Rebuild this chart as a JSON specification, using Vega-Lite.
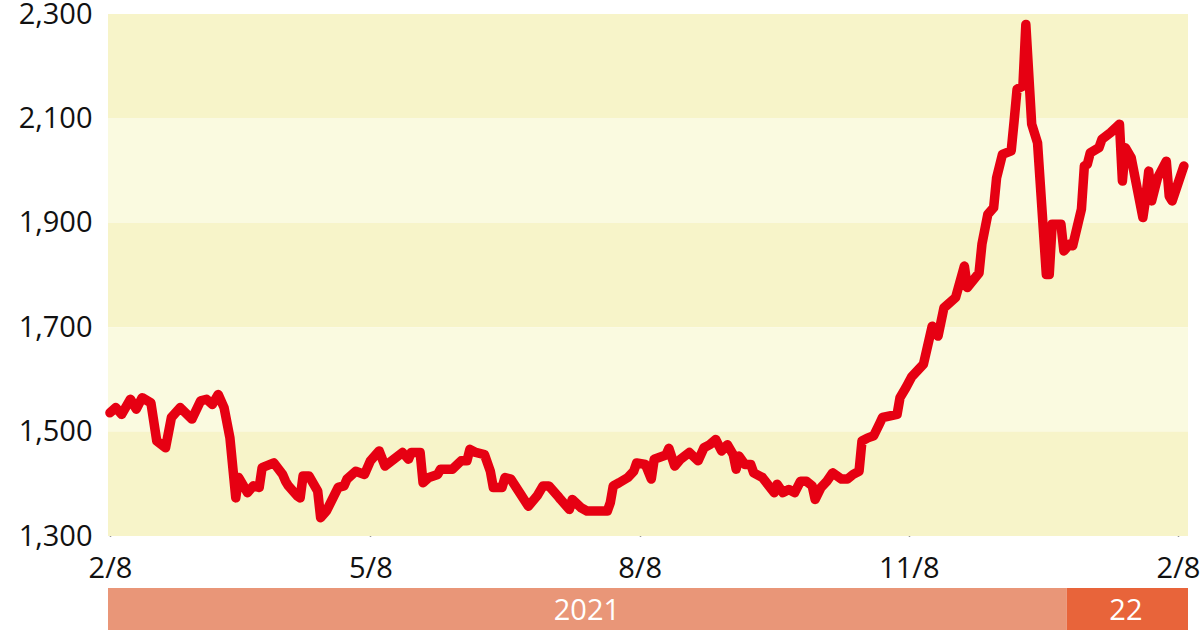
{
  "$schema": "https://vega.github.io/schema/vega-lite/v6.json",
  "padding": {"left": 18, "top": 0, "right": 0, "bottom": 0},
  "background": "white",
  "config": {
    "font": "Open Sans",
    "view": {"stroke": null},
    "concat": {"spacing": 5}
  },
  "resolve": {"scale": {"color": "independent"}},
  "datasets": {
    "bands": [
      {"lo": 2100, "hi": 2300, "shade": "dark"},
      {"lo": 1900, "hi": 2100, "shade": "light"},
      {"lo": 1700, "hi": 1900, "shade": "dark"},
      {"lo": 1500, "hi": 1700, "shade": "light"},
      {"lo": 1300, "hi": 1500, "shade": "dark"}
    ],
    "price": [
      {"date": "2021-02-08", "value": 1536},
      {"date": "2021-02-10", "value": 1546},
      {"date": "2021-02-12", "value": 1533},
      {"date": "2021-02-15", "value": 1562},
      {"date": "2021-02-17", "value": 1543},
      {"date": "2021-02-19", "value": 1565},
      {"date": "2021-02-22", "value": 1555},
      {"date": "2021-02-24", "value": 1482},
      {"date": "2021-02-27", "value": 1469},
      {"date": "2021-03-01", "value": 1527},
      {"date": "2021-03-04", "value": 1546},
      {"date": "2021-03-08", "value": 1524},
      {"date": "2021-03-11", "value": 1559},
      {"date": "2021-03-13", "value": 1562},
      {"date": "2021-03-15", "value": 1552},
      {"date": "2021-03-17", "value": 1571},
      {"date": "2021-03-19", "value": 1546},
      {"date": "2021-03-21", "value": 1488},
      {"date": "2021-03-23", "value": 1373},
      {"date": "2021-03-24", "value": 1412},
      {"date": "2021-03-27", "value": 1383},
      {"date": "2021-03-29", "value": 1396},
      {"date": "2021-03-31", "value": 1393},
      {"date": "2021-04-01", "value": 1431},
      {"date": "2021-04-05", "value": 1440},
      {"date": "2021-04-08", "value": 1418},
      {"date": "2021-04-09", "value": 1405},
      {"date": "2021-04-10", "value": 1396},
      {"date": "2021-04-13", "value": 1377},
      {"date": "2021-04-14", "value": 1373},
      {"date": "2021-04-15", "value": 1415},
      {"date": "2021-04-17", "value": 1415},
      {"date": "2021-04-20", "value": 1386},
      {"date": "2021-04-21", "value": 1335},
      {"date": "2021-04-23", "value": 1348},
      {"date": "2021-04-27", "value": 1393},
      {"date": "2021-04-29", "value": 1396},
      {"date": "2021-04-30", "value": 1409},
      {"date": "2021-05-03", "value": 1424},
      {"date": "2021-05-06", "value": 1418},
      {"date": "2021-05-08", "value": 1444},
      {"date": "2021-05-11", "value": 1463},
      {"date": "2021-05-13", "value": 1434},
      {"date": "2021-05-16", "value": 1447},
      {"date": "2021-05-19", "value": 1460},
      {"date": "2021-05-21", "value": 1447},
      {"date": "2021-05-22", "value": 1460},
      {"date": "2021-05-25", "value": 1460},
      {"date": "2021-05-26", "value": 1402},
      {"date": "2021-05-28", "value": 1412},
      {"date": "2021-05-31", "value": 1418},
      {"date": "2021-06-01", "value": 1428},
      {"date": "2021-06-05", "value": 1428},
      {"date": "2021-06-08", "value": 1444},
      {"date": "2021-06-10", "value": 1444},
      {"date": "2021-06-11", "value": 1466},
      {"date": "2021-06-13", "value": 1460},
      {"date": "2021-06-16", "value": 1456},
      {"date": "2021-06-18", "value": 1424},
      {"date": "2021-06-19", "value": 1393},
      {"date": "2021-06-22", "value": 1393},
      {"date": "2021-06-23", "value": 1412},
      {"date": "2021-06-25", "value": 1409},
      {"date": "2021-06-28", "value": 1383},
      {"date": "2021-07-01", "value": 1357},
      {"date": "2021-07-04", "value": 1377},
      {"date": "2021-07-06", "value": 1396},
      {"date": "2021-07-08", "value": 1396},
      {"date": "2021-07-11", "value": 1377},
      {"date": "2021-07-12", "value": 1370},
      {"date": "2021-07-15", "value": 1351},
      {"date": "2021-07-16", "value": 1370},
      {"date": "2021-07-19", "value": 1354},
      {"date": "2021-07-21", "value": 1348},
      {"date": "2021-07-28", "value": 1348},
      {"date": "2021-07-29", "value": 1364},
      {"date": "2021-07-30", "value": 1396},
      {"date": "2021-08-01", "value": 1402},
      {"date": "2021-08-04", "value": 1412},
      {"date": "2021-08-06", "value": 1424},
      {"date": "2021-08-07", "value": 1440},
      {"date": "2021-08-10", "value": 1437},
      {"date": "2021-08-12", "value": 1409},
      {"date": "2021-08-13", "value": 1447},
      {"date": "2021-08-17", "value": 1455},
      {"date": "2021-08-18", "value": 1468},
      {"date": "2021-08-20", "value": 1434},
      {"date": "2021-08-22", "value": 1447},
      {"date": "2021-08-25", "value": 1460},
      {"date": "2021-08-28", "value": 1444},
      {"date": "2021-08-30", "value": 1469},
      {"date": "2021-09-01", "value": 1475},
      {"date": "2021-09-03", "value": 1485},
      {"date": "2021-09-05", "value": 1463},
      {"date": "2021-09-07", "value": 1475},
      {"date": "2021-09-09", "value": 1456},
      {"date": "2021-09-10", "value": 1428},
      {"date": "2021-09-11", "value": 1453},
      {"date": "2021-09-13", "value": 1437},
      {"date": "2021-09-15", "value": 1437},
      {"date": "2021-09-16", "value": 1421},
      {"date": "2021-09-19", "value": 1412},
      {"date": "2021-09-23", "value": 1383},
      {"date": "2021-09-24", "value": 1399},
      {"date": "2021-09-26", "value": 1383},
      {"date": "2021-09-28", "value": 1389},
      {"date": "2021-09-30", "value": 1383},
      {"date": "2021-10-02", "value": 1405},
      {"date": "2021-10-04", "value": 1405},
      {"date": "2021-10-06", "value": 1396},
      {"date": "2021-10-07", "value": 1370},
      {"date": "2021-10-09", "value": 1393},
      {"date": "2021-10-11", "value": 1405},
      {"date": "2021-10-13", "value": 1421},
      {"date": "2021-10-16", "value": 1409},
      {"date": "2021-10-18", "value": 1409},
      {"date": "2021-10-20", "value": 1418},
      {"date": "2021-10-22", "value": 1424},
      {"date": "2021-10-23", "value": 1482},
      {"date": "2021-10-25", "value": 1488},
      {"date": "2021-10-27", "value": 1492},
      {"date": "2021-10-29", "value": 1515},
      {"date": "2021-10-30", "value": 1527},
      {"date": "2021-11-04", "value": 1533},
      {"date": "2021-11-05", "value": 1565},
      {"date": "2021-11-07", "value": 1584},
      {"date": "2021-11-09", "value": 1605},
      {"date": "2021-11-13", "value": 1629},
      {"date": "2021-11-16", "value": 1702},
      {"date": "2021-11-18", "value": 1683},
      {"date": "2021-11-20", "value": 1737},
      {"date": "2021-11-24", "value": 1757},
      {"date": "2021-11-27", "value": 1817},
      {"date": "2021-11-28", "value": 1776},
      {"date": "2021-12-02", "value": 1804},
      {"date": "2021-12-03", "value": 1859},
      {"date": "2021-12-05", "value": 1916},
      {"date": "2021-12-07", "value": 1929},
      {"date": "2021-12-08", "value": 1986},
      {"date": "2021-12-10", "value": 2031},
      {"date": "2021-12-13", "value": 2038},
      {"date": "2021-12-14", "value": 2095},
      {"date": "2021-12-15", "value": 2156},
      {"date": "2021-12-17", "value": 2162},
      {"date": "2021-12-18", "value": 2280},
      {"date": "2021-12-20", "value": 2089},
      {"date": "2021-12-22", "value": 2053},
      {"date": "2021-12-25", "value": 1801},
      {"date": "2021-12-26", "value": 1801},
      {"date": "2021-12-27", "value": 1897},
      {"date": "2021-12-30", "value": 1897},
      {"date": "2021-12-31", "value": 1846},
      {"date": "2022-01-02", "value": 1859},
      {"date": "2022-01-03", "value": 1856},
      {"date": "2022-01-06", "value": 1926},
      {"date": "2022-01-07", "value": 2009},
      {"date": "2022-01-08", "value": 2012},
      {"date": "2022-01-09", "value": 2034},
      {"date": "2022-01-12", "value": 2044},
      {"date": "2022-01-13", "value": 2060},
      {"date": "2022-01-16", "value": 2073},
      {"date": "2022-01-19", "value": 2089},
      {"date": "2022-01-20", "value": 1980},
      {"date": "2022-01-21", "value": 2044},
      {"date": "2022-01-23", "value": 2025},
      {"date": "2022-01-27", "value": 1910},
      {"date": "2022-01-28", "value": 1948},
      {"date": "2022-01-29", "value": 1999},
      {"date": "2022-01-30", "value": 1942},
      {"date": "2022-02-01", "value": 1986},
      {"date": "2022-02-04", "value": 2018},
      {"date": "2022-02-05", "value": 1951},
      {"date": "2022-02-06", "value": 1942},
      {"date": "2022-02-10", "value": 2009}
    ],
    "years": [
      {"label": "2021", "start": "2021-02-07T08:00:00Z", "end": "2022-01-01T00:00:00Z", "mid": "2021-07-21T00:00:00Z"},
      {"label": "22", "start": "2022-01-01T00:00:00Z", "end": "2022-02-11T10:00:00Z", "mid": "2022-01-21T05:00:00Z"}
    ]
  },
  "vconcat": [
    {
      "width": 1080,
      "height": 522,
      "layer": [
        {
          "data": {"name": "bands"},
          "mark": {"type": "rect"},
          "encoding": {
            "y": {"field": "lo", "type": "quantitative", "scale": {"domain": [1300, 2300], "nice": false, "zero": false},
              "axis": {"values": [1300, 1500, 1700, 1900, 2100, 2300], "labelExpr": "format(datum.value, ',.0f')", "title": null, "domain": false, "ticks": false, "grid": false, "labelFontSize": 29, "labelColor": "#111", "labelPadding": 16, "labelFont": "Open Sans"}},
            "y2": {"field": "hi"},
            "color": {"field": "shade", "type": "nominal", "scale": {"domain": ["dark", "light"], "range": ["#f7f4c9", "#fafae0"]}, "legend": null}
          }
        },
        {
          "data": {"name": "price"},
          "mark": {"type": "line", "color": "#e60012", "strokeWidth": 9.5, "strokeJoin": "round", "strokeCap": "round"},
          "encoding": {
            "x": {"field": "date", "type": "temporal",
              "scale": {"type": "utc", "domain": [{"year": 2021, "month": 2, "date": 7, "hours": 8, "utc": true}, {"year": 2022, "month": 2, "date": 11, "hours": 10, "utc": true}], "nice": false},
              "axis": {"values": [{"year": 2021, "month": 2, "date": 8, "utc": true}, {"year": 2021, "month": 5, "date": 8, "utc": true}, {"year": 2021, "month": 8, "date": 8, "utc": true}, {"year": 2021, "month": 11, "date": 8, "utc": true}, {"year": 2022, "month": 2, "date": 8, "utc": true}],
                "labelExpr": "utcFormat(datum.value, '%-m/%-d')", "title": null, "domain": false, "ticks": true, "tickSize": -14, "tickColor": "#333", "tickWidth": 1.5, "grid": false, "labelFontSize": 29, "labelColor": "#111", "labelPadding": 32, "labelFlush": false, "labelFont": "Open Sans"}},
            "y": {"field": "value", "type": "quantitative"}
          }
        }
      ]
    },
    {
      "width": 1080,
      "height": 46,
      "data": {"name": "years"},
      "layer": [
        {
          "mark": {"type": "rect", "clip": true},
          "encoding": {
            "x": {"field": "start", "type": "temporal", "axis": null,
              "scale": {"type": "utc", "domain": [{"year": 2021, "month": 2, "date": 7, "hours": 8, "utc": true}, {"year": 2022, "month": 2, "date": 11, "hours": 10, "utc": true}], "nice": false}},
            "x2": {"field": "end"},
            "color": {"field": "label", "type": "nominal", "scale": {"domain": ["2021", "22"], "range": ["#e99678", "#e8643a"]}, "legend": null}
          }
        },
        {
          "mark": {"type": "text", "color": "white", "fontSize": 29, "font": "Open Sans", "baseline": "middle", "align": "center"},
          "encoding": {
            "x": {"field": "mid", "type": "temporal"},
            "text": {"field": "label"}
          }
        }
      ]
    }
  ]
}
